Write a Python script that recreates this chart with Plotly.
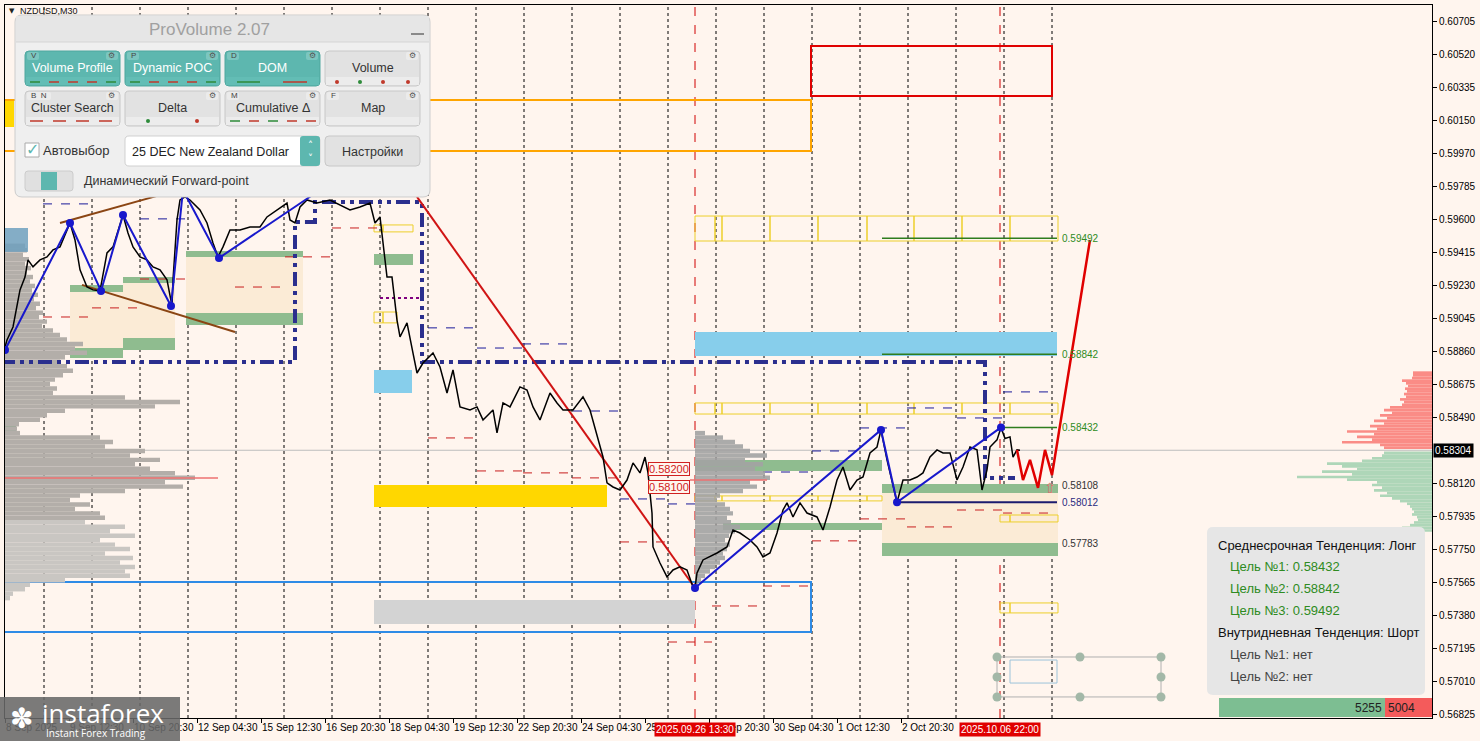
import plotly.graph_objects as go

# ===================== DATA =====================
symbol_label = "NZDUSD,M30"
last_price = 0.58304

# M30 bars (x = bar index, 48 bars per trading day, 0 = 8 Sep 00:00)
price_bars = [9, 11, 17, 24, 29, 32, 37, 44, 51, 57, 64, 71, 74, 79, 84, 91, 97, 104, 111, 117,
              127, 132, 137, 144, 151, 157, 164, 171, 176, 177, 181, 184, 189, 194, 204, 211, 217, 222, 227, 234,
              244, 254, 264, 271, 281, 291, 294, 299, 304, 311, 321, 334, 354, 364, 374, 379, 384, 391, 396, 401,
              404, 411, 417, 421, 427, 437, 444, 451, 457, 464, 474, 481, 487, 497, 501, 507, 514, 524, 531, 537,
              544, 554, 561, 567, 577, 587, 594, 601, 607, 611, 617, 624, 631, 637, 644, 649, 652, 656, 657, 664,
              671, 677, 684, 691, 697, 699, 701, 707, 721, 731, 737, 744, 754, 761, 767, 774, 781, 787, 791, 797,
              804, 811, 821, 827, 834, 841, 847, 854, 861, 867, 874, 881, 885, 891, 897, 901, 907, 914, 921, 927,
              934, 941, 947, 954, 961, 967, 974, 981, 986, 991, 994, 1001, 1005, 1009, 1014, 1017, 1021, 1024]
price_close = [0.58883, 0.58922, 0.58995, 0.59203, 0.59275, 0.59371, 0.59332, 0.59371, 0.59388, 0.59427,
               0.59444, 0.59539, 0.59578, 0.59483, 0.59315, 0.59219, 0.59203, 0.59197, 0.59410, 0.59444,
               0.59623, 0.59522, 0.59444, 0.59388, 0.59371, 0.59332, 0.59315, 0.59259, 0.59113, 0.59259,
               0.59595, 0.59707, 0.59724, 0.59707, 0.59651, 0.59578, 0.59466, 0.59388, 0.59444, 0.59539,
               0.59539, 0.59556, 0.59556, 0.59612, 0.59651, 0.59690, 0.59595, 0.59578, 0.59668, 0.59707,
               0.59690, 0.59707, 0.59651, 0.59668, 0.59690, 0.59578, 0.59612, 0.59275, 0.59275, 0.59034,
               0.58939, 0.59018, 0.58849, 0.58737, 0.58793, 0.58849, 0.58771, 0.58625, 0.58754, 0.58547,
               0.58530, 0.58547, 0.58474, 0.58530, 0.58401, 0.58569, 0.58547, 0.58659, 0.58642, 0.58547,
               0.58474, 0.58625, 0.58569, 0.58530, 0.58530, 0.58603, 0.58530, 0.58379, 0.58266, 0.58121,
               0.58098, 0.58081, 0.58137, 0.58233, 0.58177, 0.58266, 0.58177, 0.57952, 0.57762, 0.57672,
               0.57594, 0.57633, 0.57650, 0.57633, 0.57538, 0.57532, 0.57616, 0.57689, 0.57728, 0.57762,
               0.57857, 0.57840, 0.57801, 0.57762, 0.57706, 0.57728, 0.57840, 0.57969, 0.58009, 0.57930,
               0.58009, 0.57952, 0.57930, 0.57857, 0.57986, 0.58137, 0.58210, 0.58081, 0.58137, 0.58154,
               0.58289, 0.58322, 0.58418, 0.58250, 0.58098, 0.58012, 0.58137, 0.58137, 0.58154, 0.58177,
               0.58266, 0.58306, 0.58289, 0.58289, 0.58137, 0.58210, 0.58322, 0.58306, 0.58081, 0.58194,
               0.58322, 0.58362, 0.58432, 0.58370, 0.58379, 0.58266, 0.58306, 0.58304]

forecast_bars = [1021, 1027, 1034, 1042, 1049, 1056, 1094]
forecast_price = [0.58306, 0.58137, 0.58250, 0.58093, 0.58306, 0.58165, 0.59483]

wave_left_bars = [9, 74, 105, 127, 175, 187, 223, 324]
wave_left_price = [0.58866, 0.59578, 0.59197, 0.59623, 0.59113, 0.59763, 0.59382, 0.59763]
wave_right_bars = [699, 885, 901, 1005]
wave_right_price = [0.57532, 0.58418, 0.58012, 0.58432]

brown_upper_bars = [64, 179]
brown_upper_price = [0.59578, 0.59758]
brown_lower_bars = [86, 239]
brown_lower_price = [0.59231, 0.58967]
red_trend_bars = [421, 699]
red_trend_price = [0.59724, 0.57532]
navy_path_bars = [5, 299, 299, 319, 319, 426, 426, 989, 989, 1019]
navy_path_price = [0.58799, 0.58799, 0.59584, 0.59584, 0.59696, 0.59696, 0.58799, 0.58799, 0.58149, 0.58149]

targets = [0.59492, 0.58842, 0.58432]
target_start = [886, 886, 1007]
support_level = 0.58012
support_start = 901
levels_end = 1061
side_labels = [0.59492, 0.58842, 0.58432, 0.58108, 0.58012, 0.57783]

day_bars = [48, 96, 144, 192, 240, 288, 336, 384, 432, 480, 528, 576,
            624, 672, 720, 768, 816, 864, 912, 960, 1008, 1056]
marked_bars = [699, 1004]
marked_text = ["2025.09.26 13:30", "2025.10.06 22:00"]

x_tick_bars = [9, 73, 137, 201, 265, 329, 393, 457, 521, 585, 649, 713, 777, 841, 905]
x_tick_text = ["8 Sep 2025", "9 Sep 12:30", "10 Sep 20:30", "12 Sep 04:30", "15 Sep 12:30",
               "16 Sep 20:30", "18 Sep 04:30", "19 Sep 12:30", "22 Sep 20:30", "24 Sep 04:30",
               "25 Sep 12:30", "26 Sep 20:30", "30 Sep 04:30", "1 Oct 12:30", "2 Oct 20:30"]
y_tick_text = ["0.60705", "0.60520", "0.60335", "0.60150", "0.59970", "0.59785", "0.59600",
               "0.59415", "0.59230", "0.59045", "0.58860", "0.58675", "0.58490", "0.58120",
               "0.57935", "0.57750", "0.57565", "0.57380", "0.57195", "0.57010", "0.56825"]

# zones: (bar0, bar1, top price, bottom price)
peach_zones = [(74, 127, 0.59191, 0.58877), (127, 179, 0.59242, 0.58933),
               (190, 307, 0.59388, 0.59074), (886, 1062, 0.58065, 0.57784)]
green_zones = [(74, 127, 0.59231, 0.59191), (127, 179, 0.59275, 0.59242),
               (74, 127, 0.58877, 0.58821), (127, 179, 0.58933, 0.58866),
               (190, 307, 0.59421, 0.59388), (190, 307, 0.59074, 0.59006),
               (378, 417, 0.59404, 0.59343), (699, 886, 0.58250, 0.58188),
               (727, 886, 0.57896, 0.57857), (886, 1062, 0.58115, 0.58065),
               (886, 1062, 0.57784, 0.57711)]
dark_green_zones = [(9, 20, 0.58457, 0.58390)]
gold_zones = [(378, 611, 0.58109, 0.57986), (0, 18, 0.60268, 0.60116)]
gray_zones = [(378, 699, 0.57465, 0.57330)]
sky_zones = [(699, 1061, 0.58967, 0.58833), (378, 416, 0.58754, 0.58625)]
steel_zones = [(0, 32, 0.59550, 0.59416)]
red_box = (815, 1056, 0.60570, 0.60290)
orange_box = (0, 815, 0.60268, 0.59982)
blue_box = (0, 815, 0.57566, 0.57285)

# yellow outlined cell rows: (cell edges, top, bottom)
cell_rows = [([699, 719, 726, 774, 822, 871, 918, 966, 1014, 1062], 0.59617, 0.59477),
             ([699, 719, 726, 774, 822, 871, 918, 966, 1014, 1062], 0.58569, 0.58507),
             ([699, 719, 726, 774, 822, 871, 886], 0.58048, 0.58020),
             ([1004, 1014, 1062], 0.57941, 0.57902),
             ([1004, 1014, 1062], 0.57448, 0.57392),
             ([378, 387, 417], 0.59567, 0.59528),
             ([378, 387, 401], 0.59079, 0.59018)]

# short dashed levels: (bar0, bar1, price)
navy_dashes = [(47, 96, 0.59685), (144, 192, 0.59601), (9, 47, 0.59270), (432, 477, 0.58990),
               (481, 526, 0.58877), (526, 574, 0.58900), (577, 622, 0.58524), (624, 671, 0.58031),
               (672, 699, 0.58003), (767, 816, 0.58182), (816, 864, 0.58300), (864, 911, 0.58429),
               (911, 959, 0.58541), (961, 1007, 0.58485), (1007, 1056, 0.58631)]
red_dashes = [(9, 47, 0.58922), (47, 96, 0.59051), (96, 144, 0.59102), (144, 192, 0.59264),
              (239, 289, 0.59219), (289, 336, 0.59388), (336, 384, 0.59550), (432, 479, 0.58373),
              (481, 526, 0.58188), (527, 576, 0.58177), (576, 624, 0.58149), (624, 671, 0.57790),
              (672, 716, 0.57229), (716, 764, 0.57431), (767, 816, 0.57543), (816, 864, 0.57796),
              (864, 911, 0.57919), (911, 959, 0.57874), (961, 1007, 0.57969), (1007, 1056, 0.57952)]
purple_dashes = [(384, 426, 0.59158)]
poc_lines = [(9, 222, 0.58149), (694, 771, 0.58137)]
price_tags = [0.58200, 0.58100]

# volume profiles
left_profile_top, left_profile_step = 0.59450, 0.00025
left_profile_vol = [20, 22, 18, 24, 20, 26, 22, 28, 25, 30, 27, 33, 29, 35, 31, 38, 34, 42, 37, 48,
                    55, 62, 78, 70, 82, 60, 55, 62, 68, 58, 50, 45, 52, 48, 120, 175, 150, 60, 42, 35,
                    14, 12, 15, 95, 108, 100, 140, 125, 155, 130, 145, 170, 190, 160, 178, 120, 75, 65, 85, 70,
                    95, 100, 80, 120, 105, 130, 95, 110, 125, 100, 128, 115, 130, 120, 125, 60, 25, 20, 8, 5]
mid_profile_top, mid_profile_step = 0.58400, 0.00025
mid_profile_vol = [10, 28, 40, 48, 55, 72, 50, 68, 60, 70, 75, 55, 62, 48, 25, 22, 30, 35, 38, 32,
                   36, 45, 40, 34, 30, 35, 32, 28, 30, 25, 20, 15, 10, 6, 3]
dom_step = 0.00015
dom_ask_vol = [48, 52, 90, 60, 75, 58, 85, 55, 62, 48, 58, 45, 52, 40, 48, 42, 30, 28, 32, 26,
               28, 25, 27, 24, 26, 30, 20, 19, 19]
dom_bid_vol = [48, 50, 60, 70, 105, 90, 75, 110, 80, 135, 85, 55, 60, 50, 58, 45, 52, 40, 32, 25,
               22, 20, 18, 20, 15, 14, 18, 22, 30, 35]
delta_counts = [5255, 5004]

# drawing tool at the bottom
tool_dot_bars = [1001, 1001, 1001, 1084, 1165, 1165, 1165, 1084]
tool_dot_price = [0.57145, 0.57033, 0.56921, 0.57145, 0.57145, 0.57033, 0.56921, 0.56921]

info_lines = ["Среднесрочная Тенденция: Лонг", "Внутридневная Тенденция: Шорт"]

# ===================== FIGURE =====================
BG = "#FFF5EE"
AXF = "Liberation Sans"
SYM = "DejaVu Sans"
X_RANGE = [9, 1436]
Y_RANGE = [0.56803, 0.60800]


def px(x):
    return (x - 5) / 1427.0


def py(y):
    return (718 - y) / 713.0


fig = go.Figure()
shapes = []
ann = []


def zone(z, fill, line=None, layer="between", width=1):
    x0, x1, yt, yb = z
    shapes.append(dict(type="rect", xref="x", yref="y", x0=x0, x1=x1, y0=yb, y1=yt,
                       fillcolor=fill, layer=layer,
                       line=dict(color=line if line else "rgba(0,0,0,0)", width=width if line else 0)))


def hline(x0, x1, y, color, width=1, dash=None, layer="between"):
    shapes.append(dict(type="line", xref="x", yref="y", x0=x0, x1=x1, y0=y, y1=y,
                       line=dict(color=color, width=width, dash=dash), layer=layer))


def txt(x, y, s, size=12, color="#222", anchor="left", family=AXF, xref="paper", yref="paper", **kw):
    d = dict(x=x, y=y, xref=xref, yref=yref, text=s, showarrow=False, xanchor=anchor,
             yanchor="middle", font=dict(size=size, color=color, family=family))
    d.update(kw)
    ann.append(d)


def rr_path(x0, y0, x1, y1, r):
    def P(x, y):
        return f"{px(x):.5f},{py(y):.5f}"
    return (f"M {P(x0 + r, y0)} L {P(x1 - r, y0)} Q {P(x1, y0)} {P(x1, y0 + r)} "
            f"L {P(x1, y1 - r)} Q {P(x1, y1)} {P(x1 - r, y1)} L {P(x0 + r, y1)} "
            f"Q {P(x0, y1)} {P(x0, y1 - r)} L {P(x0, y0 + r)} Q {P(x0, y0)} {P(x0 + r, y0)} Z")


def ui_rect(x0, y0, x1, y1, fill, line=None, r=0, lw=1):
    ln = dict(color=line if line else "rgba(0,0,0,0)", width=lw if line else 0)
    if r:
        shapes.append(dict(type="path", path=rr_path(x0, y0, x1, y1, r), xref="paper", yref="paper",
                           fillcolor=fill, line=ln, layer="above"))
    else:
        shapes.append(dict(type="rect", xref="paper", yref="paper", x0=px(x0), x1=px(x1),
                           y0=py(y1), y1=py(y0), fillcolor=fill, line=ln, layer="above"))


def ui_line(x0, y0, x1, y1, color, width=1):
    shapes.append(dict(type="line", xref="paper", yref="paper", x0=px(x0), x1=px(x1),
                       y0=py(y0), y1=py(y1), line=dict(color=color, width=width), layer="above"))


def ui_dot(x, y, color, r=2):
    shapes.append(dict(type="circle", xref="paper", yref="paper", x0=px(x - r), x1=px(x + r),
                       y0=py(y + r), y1=py(y - r), fillcolor=color, line=dict(width=0), layer="above"))


# ---- separators / current price
for b in day_bars:
    shapes.append(dict(type="line", xref="x", yref="paper", x0=b, x1=b, y0=0, y1=1,
                       line=dict(color="black", width=1, dash="dot"), layer="below"))
for b in marked_bars:
    shapes.append(dict(type="line", xref="x", yref="paper", x0=b, x1=b, y0=0, y1=1,
                       line=dict(color="#D00000", width=1, dash="dash"), layer="between"))
shapes.append(dict(type="line", xref="paper", yref="y", x0=0, x1=1, y0=last_price, y1=last_price,
                   line=dict(color="#BDBDBD", width=1), layer="below"))

# ---- zones
for z in peach_zones:
    zone(z, "#FBEBD6")
for z in green_zones:
    zone(z, "#8FBC8F")
for z in dark_green_zones:
    zone(z, "#6E9E78")
for z in gold_zones:
    zone(z, "#FFD700")
for z in gray_zones:
    zone(z, "#D3D3D3")
for z in sky_zones:
    zone(z, "#87CEEB")
for z in steel_zones:
    zone(z, "rgba(110,160,190,0.85)", layer="above")
zone(red_box, "rgba(0,0,0,0)", line="#E00000", width=2)
zone(orange_box, "rgba(0,0,0,0)", line="#FFA500", width=2)
zone(blue_box, "rgba(0,0,0,0)", line="#2E8BE6", width=2)
for edges, top, bot in cell_rows:
    for a, b in zip(edges[:-1], edges[1:]):
        zone((a, b, top, bot), "rgba(0,0,0,0)", line="#EDCF2A", width=1)

for a, b, y in navy_dashes:
    hline(a, b, y, "#1A1A9A", 1, "dash")
for a, b, y in red_dashes:
    hline(a, b, y, "#C81E1E", 1, "dash")
for a, b, y in purple_dashes:
    hline(a, b, y, "#800080", 2, "dot")

# ---- volume profiles
left_levels = [round(left_profile_top - i * left_profile_step, 5) for i in range(len(left_profile_vol))]
left_colors = ["#B3AEA9" if p > 0.5790 else "#C9C6C2" for p in left_levels]
fig.add_trace(go.Bar(orientation="h", y=left_levels, x=left_profile_vol, base=9, width=left_profile_step,
                     marker=dict(color=left_colors, line=dict(width=0)), showlegend=False))
mid_levels = [round(mid_profile_top - i * mid_profile_step, 5) for i in range(len(mid_profile_vol))]
fig.add_trace(go.Bar(orientation="h", y=mid_levels, x=mid_profile_vol, base=699, width=mid_profile_step,
                     marker=dict(color="#A3A3A3", line=dict(width=0)), opacity=0.9, showlegend=False))
ask_levels = [round(last_price + (i + 1) * dom_step, 5) for i in range(len(dom_ask_vol))]
bid_levels = [round(last_price - (i + 1) * dom_step, 5) for i in range(len(dom_bid_vol))]
fig.add_trace(go.Bar(orientation="h", y=ask_levels, x=[-v for v in dom_ask_vol], base=1436, width=dom_step,
                     marker=dict(color="#FA8C86", line=dict(width=0)), showlegend=False))
fig.add_trace(go.Bar(orientation="h", y=bid_levels, x=[-v for v in dom_bid_vol], base=1436, width=dom_step,
                     marker=dict(color="#AED6B8", line=dict(width=0)), showlegend=False))

for a, b, y in poc_lines:
    fig.add_trace(go.Scatter(x=[a, b], y=[y, y], mode="lines", line=dict(color="#EE7070", width=1.5),
                             showlegend=False))

# ---- lines
fig.add_trace(go.Scatter(x=navy_path_bars, y=navy_path_price, mode="lines",
                         line=dict(color="#2B2F8E", width=4, dash="14px,5px,4px,5px,4px,5px"),
                         showlegend=False))
fig.add_trace(go.Scatter(x=brown_upper_bars, y=brown_upper_price, mode="lines",
                         line=dict(color="#8B4513", width=2), showlegend=False))
fig.add_trace(go.Scatter(x=brown_lower_bars, y=brown_lower_price, mode="lines",
                         line=dict(color="#8B4513", width=2), showlegend=False))
fig.add_trace(go.Scatter(x=red_trend_bars, y=red_trend_price, mode="lines",
                         line=dict(color="#D01414", width=2), showlegend=False))

for lv, st in zip(targets, target_start):
    fig.add_trace(go.Scatter(x=[st, levels_end], y=[lv, lv], mode="lines",
                             line=dict(color="#2E7D1E", width=1.5), showlegend=False))
fig.add_trace(go.Scatter(x=[support_start, levels_end], y=[support_level, support_level], mode="lines",
                         line=dict(color="#1B1B6E", width=2), showlegend=False))

fig.add_trace(go.Scatter(x=price_bars, y=price_close, mode="lines",
                         line=dict(color="black", width=1.5), showlegend=False))
for xs, ys in ((wave_left_bars, wave_left_price), (wave_right_bars, wave_right_price)):
    fig.add_trace(go.Scatter(x=xs, y=ys, mode="lines+markers", line=dict(color="#1818CC", width=2),
                             marker=dict(size=8, color="#1818CC"), showlegend=False))
fig.add_trace(go.Scatter(x=forecast_bars, y=forecast_price, mode="lines",
                         line=dict(color="#E00000", width=2.5), showlegend=False))

# drawing tool
fig.add_trace(go.Scatter(x=[1001, 1165, 1165, 1001, 1001], y=[0.57145, 0.57145, 0.56921, 0.56921, 0.57145],
                         mode="lines", line=dict(color="#B0B0B0", width=1), showlegend=False))
fig.add_trace(go.Scatter(x=[1014, 1061, 1061, 1014, 1014], y=[0.57128, 0.57128, 0.56999, 0.56999, 0.57128],
                         mode="lines", line=dict(color="#9CC3DA", width=1), showlegend=False))
fig.add_trace(go.Scatter(x=tool_dot_bars, y=tool_dot_price, mode="markers",
                         marker=dict(size=9, color="#A3B8A8"), showlegend=False))

# ---- level labels
label_colors = ["#2E8B22", "#2E8B22", "#2E8B22", "#333333", "#2A2A80", "#333333"]
for lv, c in zip(side_labels, label_colors):
    txt(1064, lv, f"{lv:.5f}", size=10, color=c, xref="x", yref="y")
for p in price_tags:
    txt(694, p, f"{p:.5f}", size=11, color="#D02020", anchor="right", xref="x", yref="y",
        bordercolor="#D02020", borderwidth=1, borderpad=0, bgcolor=BG)
txt(1054, 0.58093, "⇧", size=14, color="#E07070", anchor="center", family=SYM, xref="x", yref="y")

# ---- red date tags on the time axis
for b, t in zip(marked_bars, marked_text):
    txt(b, py(729), t, size=10, color="white", anchor="center", xref="x", bgcolor="#E00000", borderpad=1)

# current price tag
txt(px(1433), last_price, f"{last_price:.5f}", size=10, color="white", yref="y", bgcolor="black", borderpad=1)

# symbol
txt(px(7), py(11), "▼", size=7, color="#222", family=SYM)
txt(px(18), py(11), symbol_label, size=9, color="#111")

# ---- ProVolume panel
TEAL = "#5DB7AF"
ui_rect(15, 15, 430, 197, "#EFEFEF", "#CDCDCD", r=7)
ui_rect(16, 16, 429, 42, "#E6E6E6")
ui_line(16, 42, 429, 42, "#D5D5D5")
txt(px(210), py(29), "ProVolume 2.07", size=17, color="#A0A0A0", anchor="center")
ui_line(411, 34, 424, 34, "#8A8A8A", 2)

buttons = [("Volume Profile", 25, 51, 120, 86, True, "V"), ("Dynamic POC", 125, 51, 220, 86, True, "P"),
           ("DOM", 225, 51, 320, 86, True, "D"), ("Volume", 325, 51, 420, 86, False, ""),
           ("Cluster Search", 25, 91, 120, 126, False, "B  N"), ("Delta", 125, 91, 220, 126, False, ""),
           ("Cumulative Δ", 225, 91, 320, 126, False, "M"), ("Map", 325, 91, 420, 126, False, "F")]
for label, x0, y0, x1, y1, on, key in buttons:
    ui_rect(x0, y0, x1, y1, TEAL if on else "#E2E2E2", "#4FA79F" if on else "#C8C8C8", r=4)
    ui_rect(x0 + 1, y1 - 9, x1 - 1, y1 - 1, "#63BDB5" if on else "#ECECEC")
    if key:
        ui_rect(x0 + 2, y0 + 1, x0 + 8 + 6 * len(key.replace(" ", "")) + (6 if " " in key else 0), y0 + 9,
                "#7CC6BF" if on else "#EBEBEB", r=2)
        txt(px(x0 + 4), py(y0 + 5), key, size=8, color="#444")
    ui_rect(x1 - 14, y0 + 1, x1 - 2, y0 + 9, "#7CC6BF" if on else "#EBEBEB", r=2)
    txt(px(x1 - 8), py(y0 + 5), "⚙", size=8, color="#555", anchor="center", family=SYM)
    txt(px((x0 + x1) / 2), py(y0 + 17), label, size=12.5, color="white" if on else "#333", anchor="center")

G, R = "#2E8B3A", "#C0392B"
for bx in (25, 125):
    for i, c in enumerate([G, R, R, R, G]):
        ui_line(bx + 5 + 19 * i, 82, bx + 15 + 19 * i, 82, c, 1.5)
ui_line(237, 82, 260, 82, G, 1.5)
ui_line(283, 82, 307, 82, R, 1.5)
for xx, c in zip([337, 360, 383, 408], [R, G, R, R]):
    ui_dot(xx, 82, c, 2)
for i in range(4):
    ui_line(30 + 23 * i, 121, 43 + 23 * i, 121, R, 1.5)
ui_dot(148, 121, G, 2)
ui_dot(197, 121, R, 2)
for i, c in enumerate([G, R, G, R, R]):
    ui_line(230 + 19 * i, 121, 240 + 19 * i, 121, c, 1.5)

ui_rect(25, 143, 39, 157, "white", "#AAAAAA")
txt(px(32), py(149), "✓", size=16, color=TEAL, anchor="center", family=SYM)
txt(px(41), py(150), "Автовыбор", size=13, color="#333")
ui_rect(125, 136, 320, 166, "white", "#D0D0D0", r=4)
txt(px(130), py(152), "25 DEC New Zealand Dollar", size=12.5, color="#222")
ui_rect(300, 136, 320, 166, TEAL, r=3)
txt(px(310), py(145), "˄", size=10, color="white", anchor="center", family=SYM)
txt(px(310), py(158), "˅", size=10, color="white", anchor="center", family=SYM)
ui_rect(325, 136, 420, 166, "#E2E2E2", "#C8C8C8", r=4)
txt(px(372), py(152), "Настройки", size=12.5, color="#333", anchor="center")
ui_rect(25, 171, 73, 191, "#E0E0E0", "#CCCCCC", r=3)
ui_rect(41, 172, 57, 190, TEAL)
txt(px(82), py(181), "Динамический Forward-point", size=12.5, color="#333")

# ---- info box
ui_rect(1207, 527, 1425, 695, "#E6E6E6", r=6)
txt(px(1216), py(545), info_lines[0], size=13, color="#111")
for i, t in enumerate(targets[::-1]):
    txt(px(1228), py(566 + 22 * i), f"Цель №{i + 1}: {t:.5f}", size=13, color="#2E8B22")
txt(px(1216), py(632), info_lines[1], size=13, color="#111")
txt(px(1228), py(654), "Цель №1: нет", size=13, color="#444")
txt(px(1228), py(676), "Цель №2: нет", size=13, color="#444")

ui_rect(1219, 698, 1385, 717, "#7DBE92")
ui_rect(1385, 698, 1432, 717, "#F45B5B")
txt(px(1384), py(708), str(delta_counts[0]), size=12, color="#222", anchor="right")
txt(px(1386), py(708), str(delta_counts[1]), size=12, color="#222")

# ---- logo
ui_rect(0, 697, 180, 741, "rgba(105,105,105,0.88)")
txt(px(21), py(718), "✽", size=28, color="white", anchor="center", family=SYM)
txt(px(40), py(713), "instaforex", size=26, color="white", family="Open Sans")
txt(px(44), py(733), "Instant Forex Trading", size=10, color="white", family="Open Sans")

fig.update_layout(
    width=1480, height=741, margin=dict(l=5, r=48, t=5, b=23, pad=0),
    paper_bgcolor=BG, plot_bgcolor=BG, showlegend=False, barmode="overlay", hovermode=False,
    shapes=shapes, annotations=ann,
    xaxis=dict(range=X_RANGE, showgrid=False, zeroline=False, tickvals=x_tick_bars, ticktext=x_tick_text,
               ticks="outside", ticklen=4, tickcolor="black", ticklabelposition="outside right",
               tickangle=0, tickfont=dict(family=AXF, size=10, color="black"), showline=True,
               linecolor="black", linewidth=1, mirror=True, automargin=False),
    yaxis=dict(range=Y_RANGE, side="right", showgrid=False, zeroline=False,
               tickvals=[float(t) for t in y_tick_text], ticktext=y_tick_text,
               ticks="outside", ticklen=4, tickcolor="black",
               tickfont=dict(family=AXF, size=10, color="black"), showline=True, linecolor="black",
               linewidth=1, mirror=True, automargin=False),
)

fig.write_html("out.html", config={"displayModeBar": False},
               post_script="document.body.style.margin='0px';")
